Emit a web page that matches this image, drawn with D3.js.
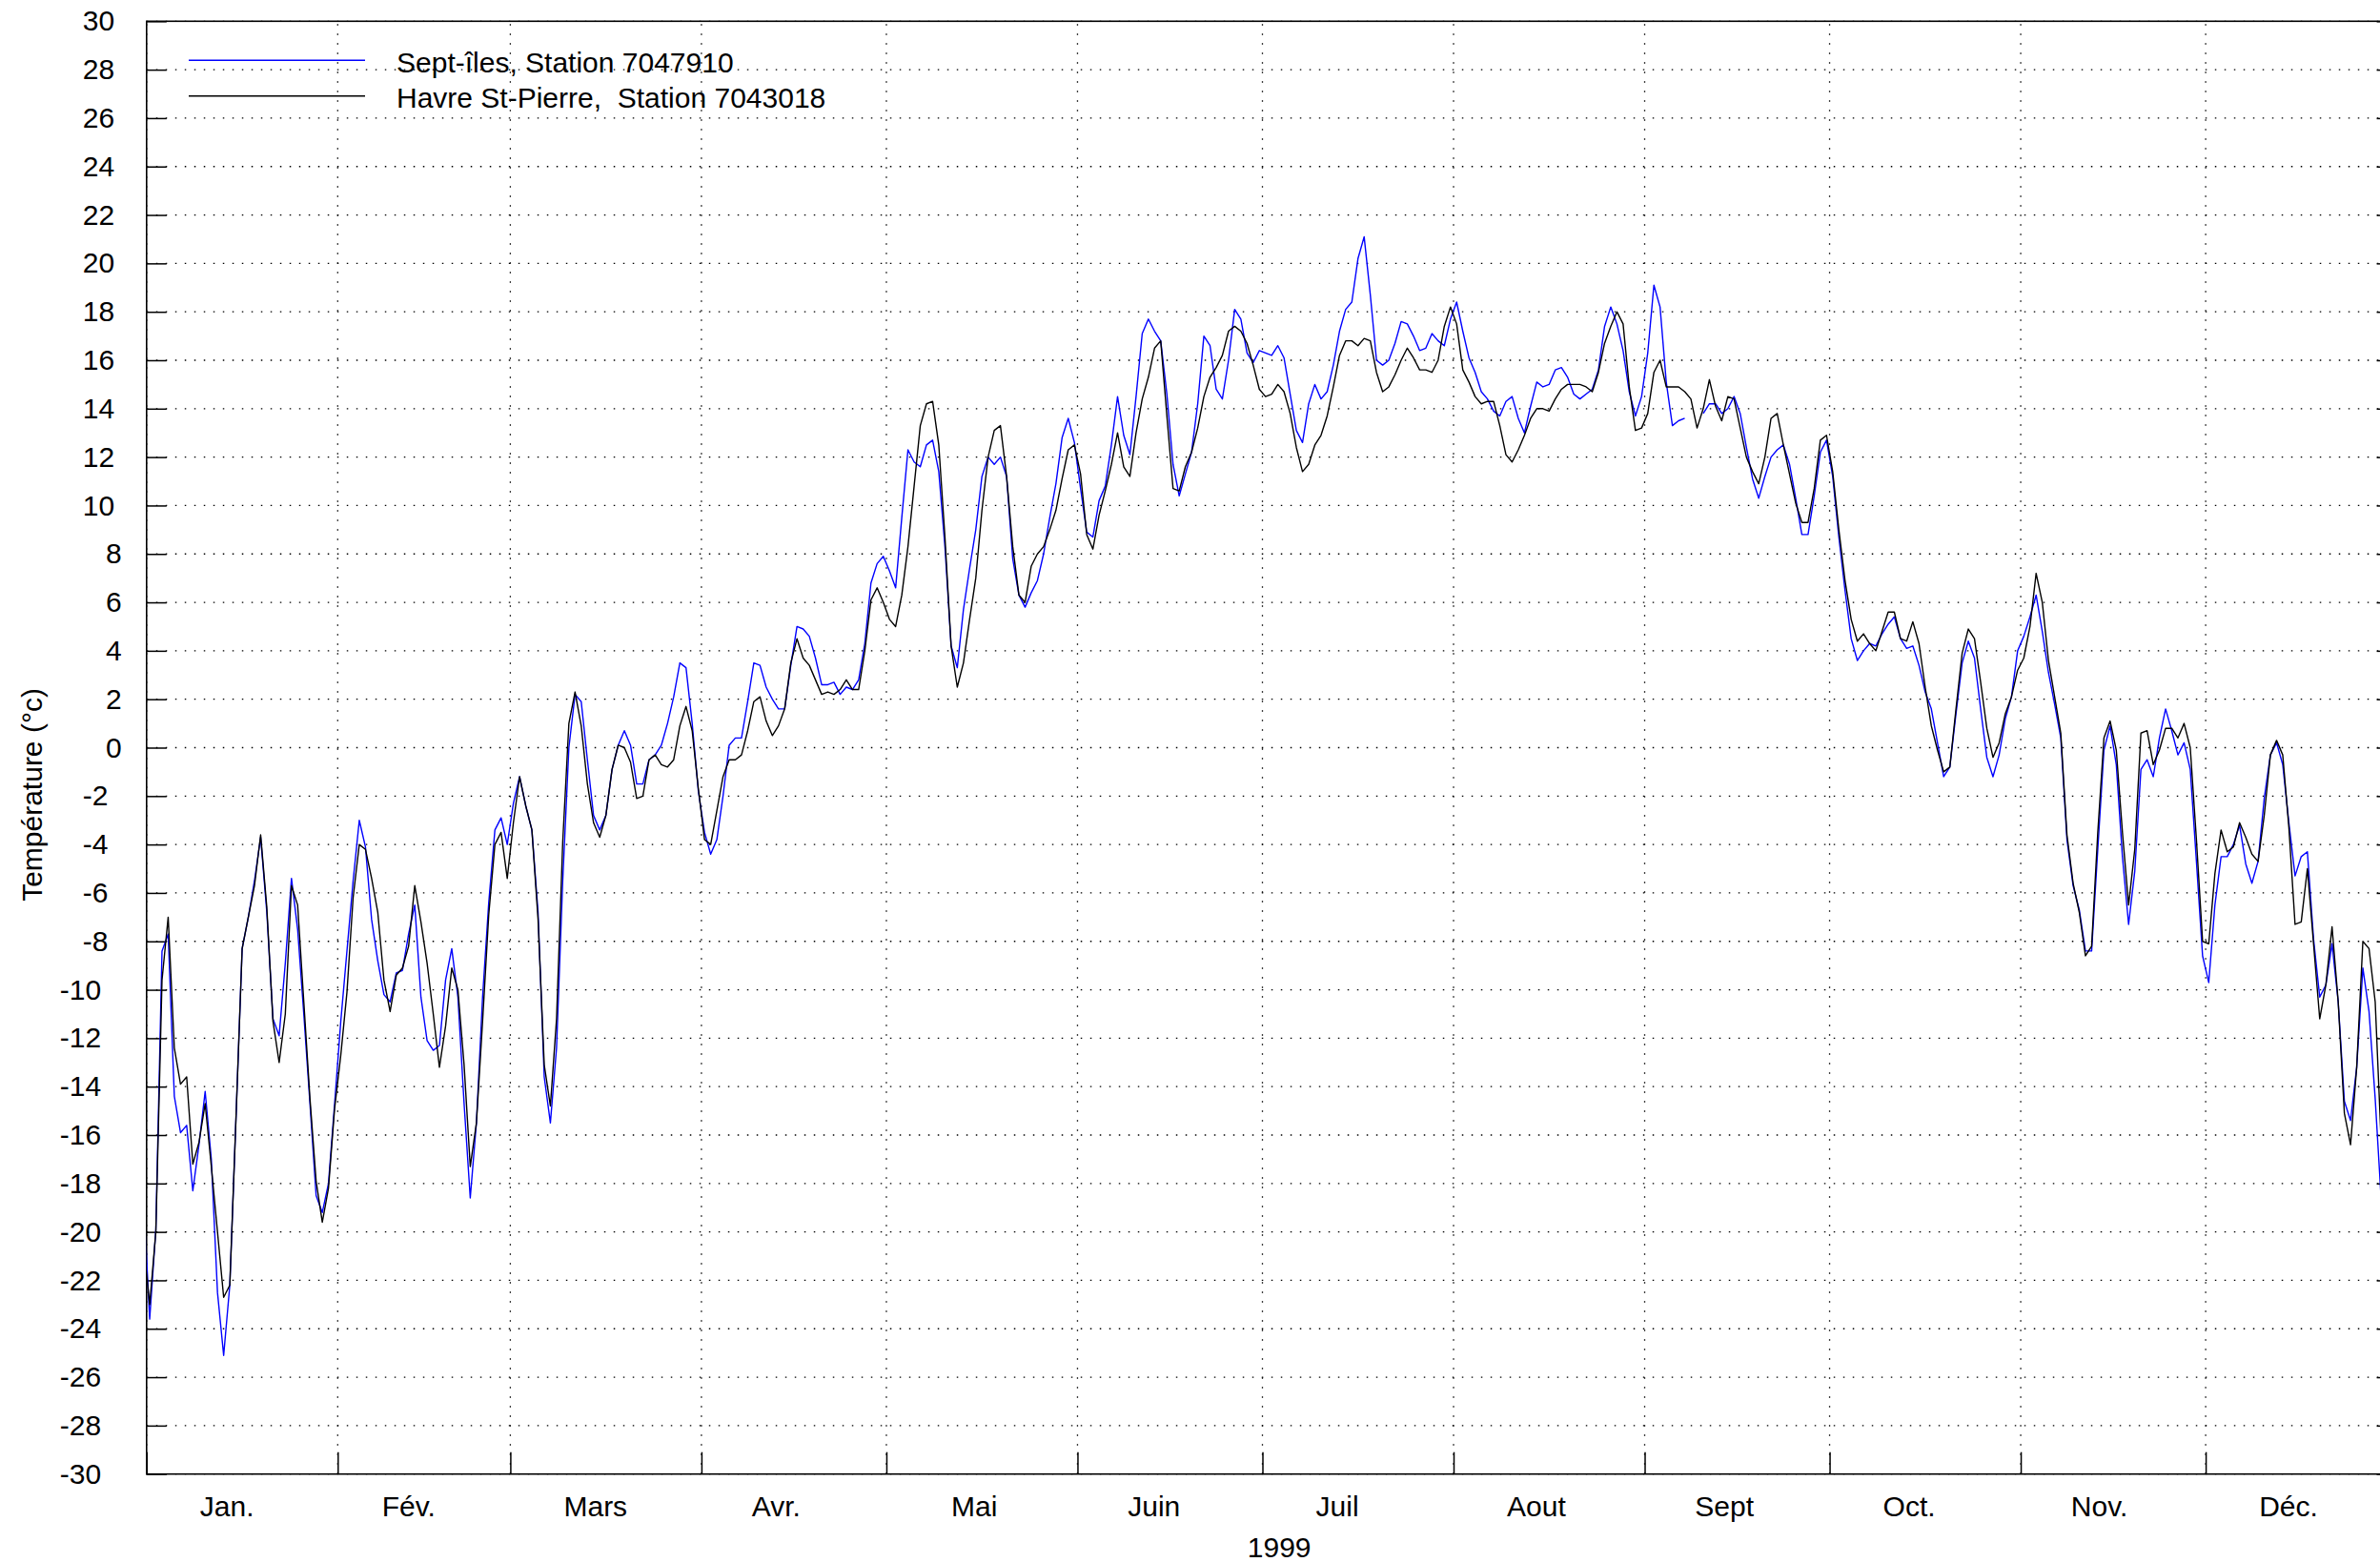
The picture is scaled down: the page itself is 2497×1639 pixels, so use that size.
<!DOCTYPE html>
<html>
<head>
<meta charset="utf-8">
<script src="https://cdn.jsdelivr.net/npm/d3@7"></script>
<style>
  body { margin: 0; background: #fff; }
  svg { display: block; font-family: "Liberation Sans", Arial, sans-serif; }
</style>
</head>
<body>
<svg id="chart"></svg>
<script>
// daily mean temperatures, first value = 31 Dec 1998, then 1 Jan .. 31 Dec 1999
const firstDay = Date.UTC(1998, 11, 31);

const monthLabels = ["Jan.", "Fév.", "Mars", "Avr.", "Mai", "Juin", "Juil", "Aout", "Sept", "Oct.", "Nov.", "Déc."];
const seriesNames = ["Sept-îles, Station 7047910", "Havre St-Pierre,  Station 7043018"];
const yTicks = [-30, -28, -26, -24, -22, -20, -18, -16, -14, -12, -10, -8, -6, -4, -2, 0,
                2, 4, 6, 8, 10, 12, 14, 16, 18, 20, 22, 24, 26, 28, 30];

const septIles = [
    -18.6,
    // Jan
    -23.6, -19.9, -8.4, -7.7, -14.4, -15.9, -15.6, -18.3, -16.4, -14.2,
    -17.0, -22.5, -25.1, -22.2, -15.3, -8.3, -7.0, -5.5, -3.7, -6.8,
    -11.2, -11.9, -8.9, -5.4, -7.5, -11.0, -14.7, -18.5, -19.2, -18.0, -14.7,
    // Feb
    -11.3, -8.4, -5.5, -3.0, -4.1, -7.1, -8.8, -10.2, -10.5, -9.3,
    -9.2, -7.7, -6.5, -10.3, -12.1, -12.5, -12.3, -9.6, -8.3, -10.3,
    -14.7, -18.6, -15.5, -10.3, -6.4, -3.4, -2.9, -4.0,
    // Mar
    -2.3, -1.2, -2.4, -3.4, -6.8, -13.6, -15.5, -12.4, -5.5, 0.0,
    2.2, 1.9, -0.5, -2.8, -3.4, -2.8, -0.9, 0.1, 0.7, 0.1,
    -1.5, -1.5, -0.5, -0.3, 0.1, 1.0, 2.1, 3.5, 3.3, 1.0, -1.8,
    // Apr
    -3.5, -4.4, -3.8, -2.0, 0.1, 0.4, 0.4, 1.9, 3.5, 3.4,
    2.5, 2.0, 1.6, 1.6, 3.4, 5.0, 4.9, 4.6, 3.7, 2.6,
    2.6, 2.7, 2.2, 2.5, 2.4, 2.8, 4.3, 6.8, 7.6, 7.9,
    // May
    7.3, 6.6, 9.5, 12.3, 11.8, 11.6, 12.5, 12.7, 11.4, 8.3,
    4.2, 3.3, 5.7, 7.4, 9.0, 11.2, 12.0, 11.7, 12.0, 11.2,
    7.8, 6.3, 5.8, 6.4, 6.9, 8.0, 9.5, 10.9, 12.8, 13.6, 12.6,
    // Jun
    10.7, 8.9, 8.7, 10.2, 10.8, 12.5, 14.5, 12.9, 12.1, 14.5,
    17.1, 17.7, 17.2, 16.8, 14.6, 11.7, 10.4, 11.3, 12.2, 14.2,
    17.0, 16.6, 14.8, 14.4, 16.0, 18.1, 17.7, 16.3, 15.9, 16.4,
    // Jul
    16.3, 16.2, 16.6, 16.1, 14.6, 13.1, 12.6, 14.2, 15.0, 14.4,
    14.7, 15.8, 17.2, 18.1, 18.4, 20.2, 21.1, 18.7, 16.0, 15.8,
    16.0, 16.7, 17.6, 17.5, 17.0, 16.4, 16.5, 17.1, 16.8, 16.6, 17.7,
    // Aug
    18.4, 17.2, 16.1, 15.5, 14.7, 14.4, 13.9, 13.7, 14.3, 14.5,
    13.6, 13.0, 14.1, 15.1, 14.9, 15.0, 15.6, 15.7, 15.3, 14.6,
    14.4, 14.6, 14.8, 15.6, 17.4, 18.2, 17.5, 16.4, 14.7, 13.7, 14.5,
    // Sep (two missing days)
    16.3, 19.1, 18.2, 15.1, 13.3, 13.5, 13.6, null, null, 13.8,
    14.2, 14.2, 13.8, 14.0, 14.5, 13.8, 12.4, 11.1, 10.3, 11.2,
    12.0, 12.3, 12.5, 11.7, 10.3, 8.8, 8.8, 10.4, 12.2, 12.7,
    // Oct
    11.2, 8.7, 6.5, 4.5, 3.6, 4.0, 4.3, 4.2, 4.7, 5.1,
    5.4, 4.5, 4.1, 4.2, 3.4, 2.3, 1.6, 0.2, -1.2, -0.8,
    1.4, 3.5, 4.4, 3.7, 1.6, -0.4, -1.2, -0.3, 1.2, 2.1, 4.0,
    // Nov
    4.6, 5.4, 6.3, 4.8, 3.1, 1.8, 0.4, -3.8, -5.7, -6.7,
    -8.4, -8.4, -4.2, -0.1, 0.9, -0.7, -4.5, -7.3, -5.1, -0.9,
    -0.5, -1.2, 0.4, 1.6, 0.7, -0.3, 0.2, -0.9, -4.7, -8.6,
    // Dec
    -9.7, -6.5, -4.5, -4.5, -4.0, -3.2, -4.8, -5.6, -4.7, -2.1,
    -0.3, 0.2, -0.7, -3.1, -5.3, -4.5, -4.3, -7.9, -10.3, -9.8,
    -8.1, -10.5, -14.6, -15.4, -13.2, -9.1, -10.9, -14.5, -18.8, -17.0, -15.0
];

const havre = [
    -20.5,
    // Jan
    -23.0, -20.0, -9.6, -7.0, -12.4, -13.9, -13.6, -17.2, -16.3, -14.7,
    -17.3, -20.0, -22.7, -22.2, -15.3, -8.3, -7.0, -5.7, -3.6, -6.6,
    -11.3, -13.0, -11.0, -5.7, -6.5, -10.5, -14.5, -17.9, -19.6, -18.2, -14.9,
    // Feb
    -12.7, -10.1, -6.2, -4.0, -4.2, -5.4, -6.8, -9.6, -10.9, -9.4,
    -9.1, -8.2, -5.7, -7.2, -8.9, -11.0, -13.2, -11.5, -9.1, -10.0,
    -13.1, -17.3, -15.5, -11.3, -6.9, -4.0, -3.5, -5.4,
    // Mar
    -3.1, -1.2, -2.4, -3.4, -7.1, -13.1, -14.8, -11.2, -3.9, 1.0,
    2.3, 0.9, -1.5, -3.1, -3.7, -2.8, -0.9, 0.1, 0.0, -0.6,
    -2.1, -2.0, -0.5, -0.3, -0.7, -0.8, -0.5, 0.9, 1.7, 0.7, -1.7,
    // Apr
    -3.8, -4.0, -2.6, -1.2, -0.5, -0.5, -0.3, 0.7, 1.9, 2.1,
    1.1, 0.5, 0.9, 1.6, 3.5, 4.5, 3.7, 3.4, 2.8, 2.2,
    2.3, 2.2, 2.4, 2.8, 2.4, 2.4, 4.0, 6.1, 6.6, 6.0,
    // May
    5.3, 5.0, 6.3, 8.3, 10.8, 13.3, 14.2, 14.3, 12.5, 8.7,
    4.2, 2.5, 3.5, 5.3, 7.0, 9.8, 12.0, 13.1, 13.3, 11.2,
    8.3, 6.3, 6.0, 7.5, 8.0, 8.3, 9.0, 9.8, 11.1, 12.3, 12.5,
    // Jun
    11.3, 8.8, 8.2, 9.6, 10.6, 11.7, 13.0, 11.6, 11.2, 13.0,
    14.4, 15.3, 16.5, 16.8, 13.7, 10.7, 10.6, 11.6, 12.2, 13.2,
    14.5, 15.3, 15.7, 16.2, 17.2, 17.4, 17.2, 16.7, 15.8, 14.8,
    // Jul
    14.5, 14.6, 15.0, 14.7, 13.8, 12.4, 11.4, 11.7, 12.5, 12.9,
    13.7, 14.9, 16.2, 16.8, 16.8, 16.6, 16.9, 16.8, 15.5, 14.7,
    14.9, 15.4, 16.0, 16.5, 16.1, 15.6, 15.6, 15.5, 16.0, 17.4, 18.2,
    // Aug
    17.5, 15.6, 15.1, 14.5, 14.2, 14.3, 14.3, 13.3, 12.1, 11.8,
    12.3, 12.9, 13.6, 14.0, 14.0, 13.9, 14.4, 14.8, 15.0, 15.0,
    15.0, 14.9, 14.7, 15.5, 16.7, 17.4, 18.0, 17.5, 14.9, 13.1, 13.2,
    // Sep
    13.8, 15.5, 16.0, 14.9, 14.9, 14.9, 14.7, 14.4, 13.2, 14.0,
    15.2, 14.1, 13.5, 14.5, 14.4, 13.2, 12.0, 11.4, 10.9, 12.0,
    13.6, 13.8, 12.5, 11.3, 10.1, 9.3, 9.3, 10.7, 12.7, 12.9,
    // Oct
    11.4, 9.0, 6.9, 5.3, 4.4, 4.7, 4.3, 4.0, 4.8, 5.6,
    5.6, 4.5, 4.4, 5.2, 4.3, 2.5, 0.9, -0.1, -1.0, -0.8,
    1.6, 3.9, 4.9, 4.5, 2.7, 0.8, -0.4, 0.2, 1.4, 2.1, 3.2,
    // Nov
    3.7, 5.0, 7.2, 6.0, 3.6, 2.1, 0.6, -3.6, -5.6, -6.8,
    -8.6, -8.2, -3.5, 0.4, 1.1, -0.1, -3.5, -6.5, -4.2, 0.6,
    0.7, -0.7, -0.1, 0.8, 0.8, 0.4, 1.0, 0.0, -3.8, -8.0,
    // Dec
    -8.1, -5.2, -3.4, -4.3, -4.1, -3.1, -3.7, -4.4, -4.7, -2.8,
    -0.3, 0.3, -0.3, -3.3, -7.3, -7.2, -5.0, -8.1, -11.2, -9.8,
    -7.4, -10.5, -15.1, -16.4, -13.2, -8.0, -8.3, -10.5, -16.5, -15.0, -13.5
];

const chartWidth = 2497,
      chartHeight = 1639,
      plotLeft = 153.8,
      plotRight = 2514.6,   // the right border falls just outside the picture
      plotTop = 22.3,
      plotBottom = 1546.7,
      fontSize = 30;

// the original placed its labels with a fixed per-character width guess,
// so justified labels drift with their length; mimic that
var estWidth = (s) => s.length * 24.1;

var toPoints = function(values) {
    // each daily value is plotted at noon of its day
    return values.map((v, i) => ({ date: new Date(firstDay + i * 864e5 + 432e5), v: v }));
}

var drawChart = function(svgSelector) {

    let svg = d3.select(svgSelector)
        .attr("width", chartWidth)
        .attr("height", chartHeight)
        .attr("viewBox", [0, 0, chartWidth, chartHeight].join(" "));

    let x = d3.scaleUtc()
            .domain([new Date(Date.UTC(1999, 0, 1)), new Date(Date.UTC(2000, 0, 1))])
            .range([plotLeft, plotRight]),
        y = d3.scaleLinear()
            .domain([-30, 30])
            .range([plotBottom, plotTop]),
        monthStarts = d3.utcMonth.range(x.domain()[0], x.domain()[1]);

    svg.append("defs")
        .append("clipPath")
        .attr("id", "plot-clip")
        .append("rect")
        .attr("x", plotLeft)
        .attr("y", plotTop)
        .attr("width", plotRight - plotLeft)
        .attr("height", plotBottom - plotTop);

    // dotted grid
    let grid = svg.append("g")
        .attr("stroke", "#000")
        .attr("stroke-width", 1.3)
        .attr("stroke-dasharray", "1.5 8.5");

    grid.selectAll("line.h")
        .data(yTicks)
        .enter()
        .append("line")
        .attr("class", "h")
        .attr("x1", plotLeft)
        .attr("x2", plotRight)
        .attr("y1", (d) => y(d))
        .attr("y2", (d) => y(d));

    grid.selectAll("line.v")
        .data(monthStarts)
        .enter()
        .append("line")
        .attr("class", "v")
        .attr("x1", (d) => x(d))
        .attr("x2", (d) => x(d))
        .attr("y1", plotBottom)
        .attr("y2", plotTop);

    // axes, ticks point inwards
    let leftAxis = svg.append("g")
        .attr("transform", `translate(${plotLeft},0)`)
        .call(d3.axisLeft(y)
            .tickValues(yTicks)
            .tickSize(-21)
            .tickSizeOuter(0)
            .tickFormat((d) => String(d)));

    let rightAxis = svg.append("g")
        .attr("transform", `translate(${plotRight},0)`)
        .call(d3.axisRight(y)
            .tickValues(yTicks)
            .tickSize(-21)
            .tickSizeOuter(0)
            .tickFormat(""));

    let bottomAxis = svg.append("g")
        .attr("transform", `translate(0,${plotBottom})`)
        .call(d3.axisBottom(x)
            .tickValues(monthStarts)
            .tickSize(-23)
            .tickSizeOuter(0)
            .tickFormat(""));

    [leftAxis, rightAxis, bottomAxis].forEach((a) => {
        a.select(".domain").remove();
        a.selectAll(".tick line").attr("stroke", "#000").attr("stroke-width", 1.5);
    });

    // right-justified against x = 135 using the width guess
    leftAxis.selectAll(".tick text")
        .attr("text-anchor", "start")
        .attr("x", (d) => 135 - plotLeft - estWidth(String(d)))
        .attr("font-size", fontSize)
        .attr("font-family", "Liberation Sans, Arial, sans-serif")
        .attr("fill", "#000");

    // frame
    svg.append("rect")
        .attr("x", plotLeft)
        .attr("y", plotTop)
        .attr("width", plotRight - plotLeft)
        .attr("height", plotBottom - plotTop)
        .attr("fill", "none")
        .attr("stroke", "#000")
        .attr("stroke-width", 1.6);

    // month names centred (by the width guess) on the middle of each month
    svg.append("g")
        .selectAll("text")
        .data(monthStarts)
        .enter()
        .append("text")
        .attr("x", (d, i) => {
            let mid = new Date((+d + +d3.utcMonth.offset(d, 1)) / 2);
            return x(mid) + 4 - estWidth(monthLabels[i]) / 2;
        })
        .attr("y", 1591)
        .attr("font-size", fontSize)
        .text((d, i) => monthLabels[i]);

    svg.append("text")
        .attr("x", (plotLeft + plotRight) / 2 + 8)
        .attr("y", 1634)
        .attr("text-anchor", "middle")
        .attr("font-size", fontSize)
        .text("1999");

    svg.append("text")
        .attr("transform", "translate(44,834) rotate(-90)")
        .attr("text-anchor", "middle")
        .attr("font-size", fontSize)
        .text("Température (°c)");

    // series
    let line = d3.line()
            .defined((d) => d.v != null)
            .x((d) => x(d.date))
            .y((d) => y(d.v)),
        series = [
            { name: seriesNames[0], color: "#0000ff", points: toPoints(septIles) },
            { name: seriesNames[1], color: "#000000", points: toPoints(havre) }
        ];

    svg.append("g")
        .attr("clip-path", "url(#plot-clip)")
        .selectAll("path")
        .data(series)
        .enter()
        .append("path")
        .attr("d", (s) => line(s.points))
        .attr("fill", "none")
        .attr("stroke", (s) => s.color)
        .attr("stroke-width", 1.4)
        .attr("stroke-linejoin", "round");

    // legend
    let legend = svg.append("g")
        .selectAll("g")
        .data(series)
        .enter()
        .append("g")
        .attr("transform", (s, i) => `translate(0,${63.3 + i * 37.4})`);

    legend.append("line")
        .attr("x1", 198)
        .attr("x2", 383)
        .attr("stroke", (s) => s.color)
        .attr("stroke-width", 1.4);

    legend.append("text")
        .attr("x", 416)
        .attr("y", 12.5)
        .attr("font-size", fontSize)
        .style("white-space", "pre")
        .text((s) => s.name);
}

drawChart("#chart");
</script>
</body>
</html>
